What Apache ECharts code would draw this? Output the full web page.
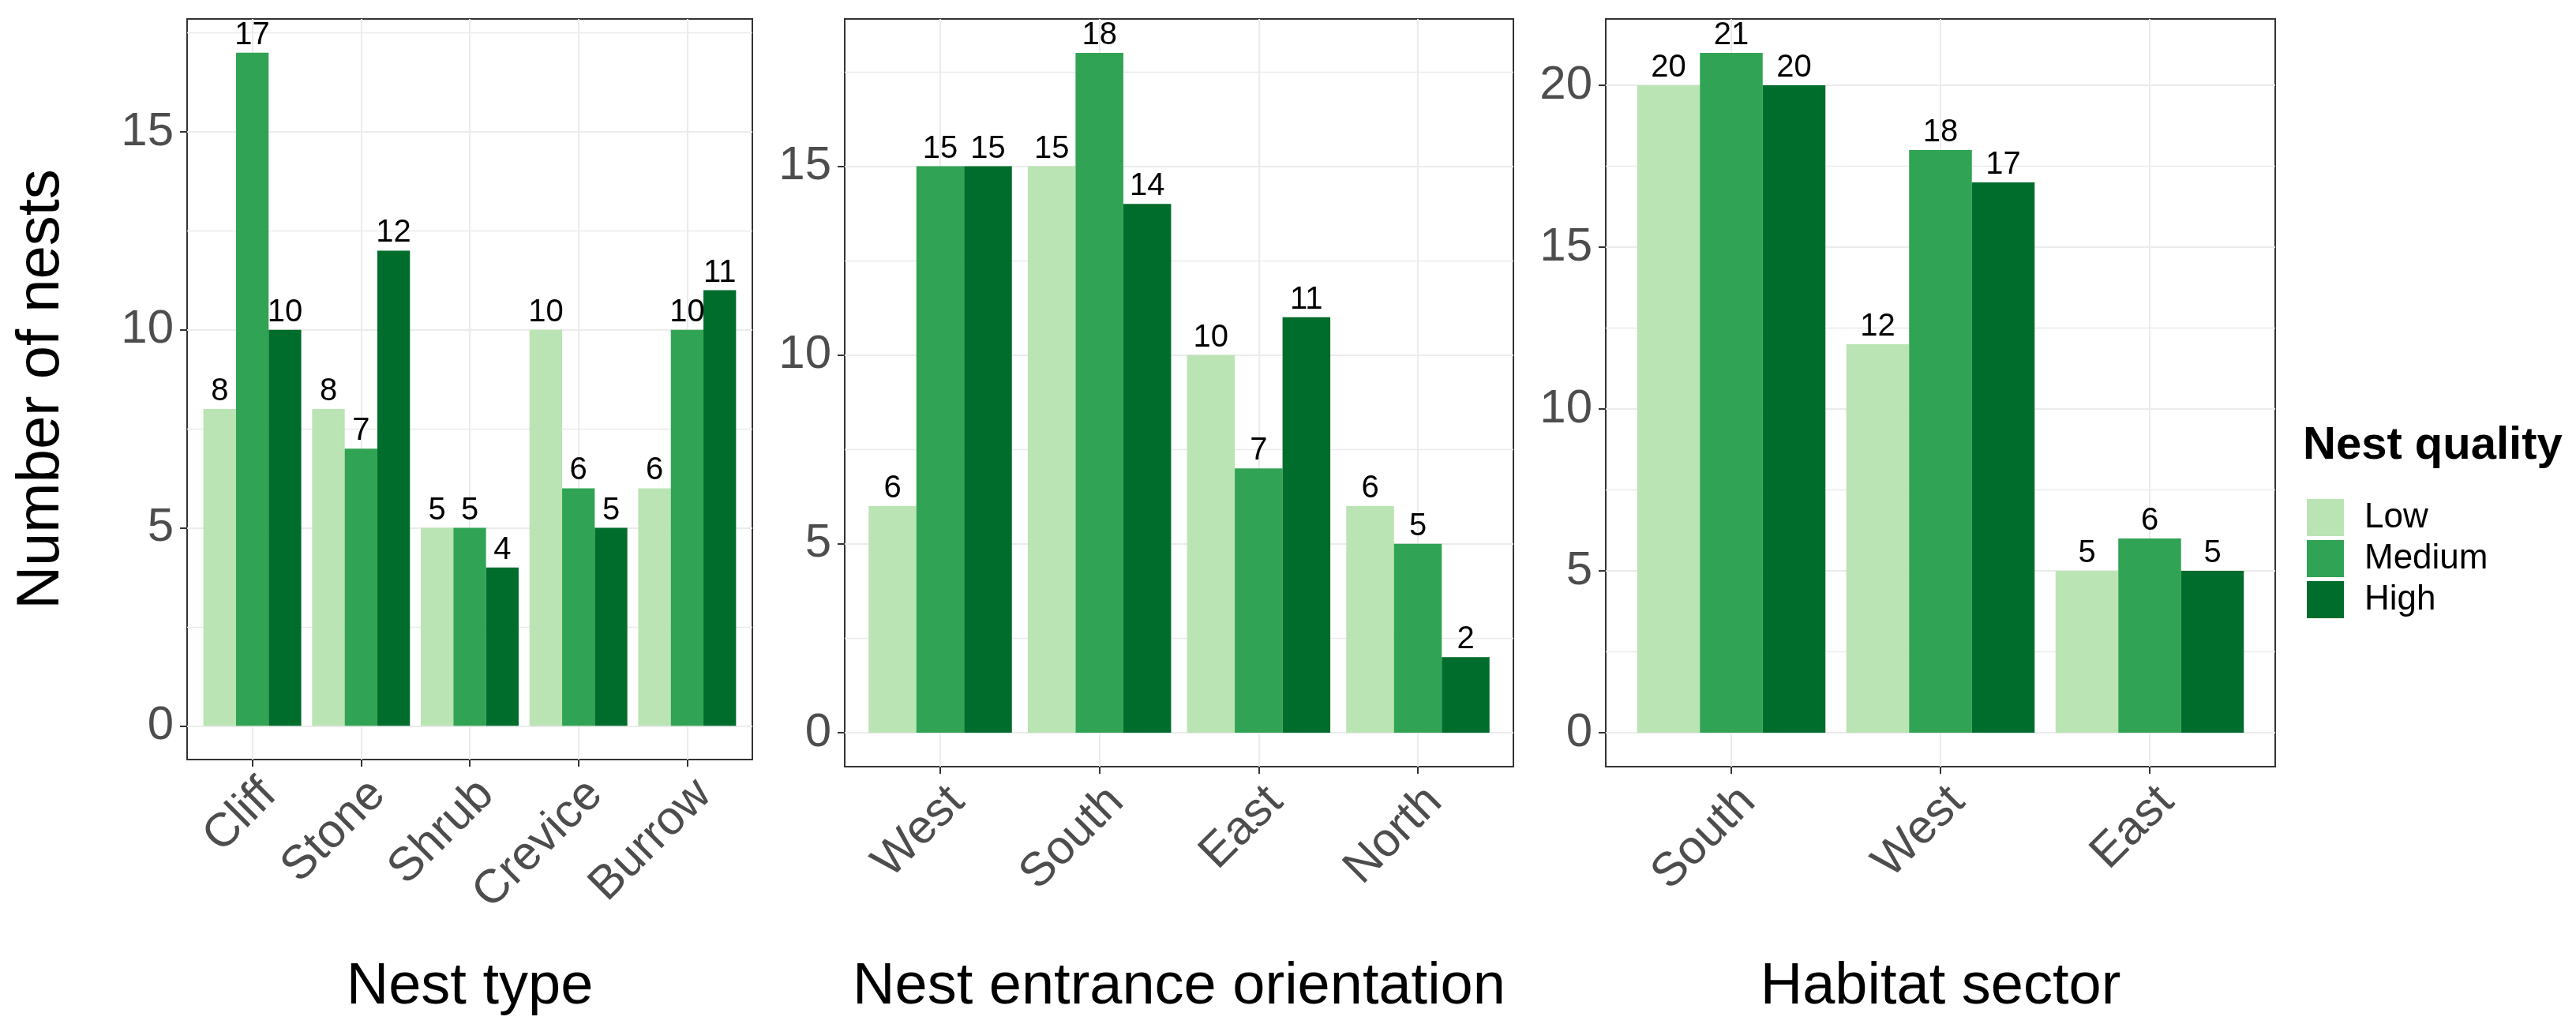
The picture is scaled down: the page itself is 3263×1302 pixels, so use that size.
<!DOCTYPE html>
<html>
<head>
<meta charset="utf-8">
<script src="https://cdn.jsdelivr.net/npm/echarts@6/dist/echarts.min.js"></script>
<style>
html,body{margin:0;padding:0;background:#fff;}
#chart{width:3263px;height:1302px;}
</style>
</head>
<body>
<div id="chart"></div>
<script>
// ---- data ----
var qualityLevels = ['Low', 'Medium', 'High'];
var qualityColors = ['#BAE4B3', '#31A354', '#006D2C'];

var nestTypes = ['Cliff', 'Stone', 'Shrub', 'Crevice', 'Burrow'];
var nestTypeLow = [8, 8, 5, 10, 6];
var nestTypeMedium = [17, 7, 5, 6, 10];
var nestTypeHigh = [10, 12, 4, 5, 11];

var orientations = ['West', 'South', 'East', 'North'];
var orientationLow = [6, 15, 10, 6];
var orientationMedium = [15, 18, 7, 5];
var orientationHigh = [15, 14, 11, 2];

var sectors = ['South', 'West', 'East'];
var sectorLow = [20, 12, 5];
var sectorMedium = [21, 18, 6];
var sectorHigh = [20, 17, 5];

var panel1Ticks = [0, 5, 10, 15];
var panel2Ticks = [0, 5, 10, 15];
var panel3Ticks = [0, 5, 10, 15, 20];
var minorTicks = [2.5, 7.5, 12.5, 17.5];

var xTitles = ['Nest type', 'Nest entrance orientation', 'Habitat sector'];
var yTitle = 'Number of nests';
var legendTitle = 'Nest quality';

// ---- layout ----
var FONT = '"Liberation Sans", Arial, Helvetica, sans-serif';
var panels = [
  {cats: nestTypes, vals: [nestTypeLow, nestTypeMedium, nestTypeHigh], ticks: panel1Ticks,
   left: 237, top: 24, width: 716, height: 938, nameGap: 252},
  {cats: orientations, vals: [orientationLow, orientationMedium, orientationHigh], ticks: panel2Ticks,
   left: 1070, top: 24, width: 847, height: 947, nameGap: 243},
  {cats: sectors, vals: [sectorLow, sectorMedium, sectorHigh], ticks: panel3Ticks,
   left: 2034, top: 24, width: 848, height: 947, nameGap: 243}
];

var grid = [], xAxis = [], yAxis = [], series = [];
panels.forEach(function (p, i) {
  var dataMax = 0;
  p.vals.forEach(function (arr) { arr.forEach(function (v) { if (v > dataMax) dataMax = v; }); });
  var pad = dataMax * 0.05;
  var yMin = -pad, yMax = dataMax + pad;
  var n = p.cats.length;
  var unit = p.width / (n + 0.2);
  var innerLeft = p.left + 0.1 * unit;
  var innerWidth = unit * n;

  // outer grid (panel box)
  var og = grid.length;
  grid.push({left: p.left, top: p.top, width: p.width, height: p.height, show: true,
    borderColor: '#333333', borderWidth: 2, backgroundColor: 'transparent', containLabel: false});
  // inner grid (bars)
  var ig = grid.length;
  grid.push({left: innerLeft, top: p.top, width: innerWidth, height: p.height, show: false, containLabel: false});

  xAxis.push({gridIndex: og, type: 'value', min: 0, max: 1, show: false});
  var ixi = xAxis.length;
  xAxis.push({
    gridIndex: ig, type: 'category', data: p.cats, position: 'bottom',
    name: xTitles[i], nameLocation: 'middle', nameGap: p.nameGap,
    nameTextStyle: {fontSize: 74, color: '#000', fontFamily: FONT},
    axisLine: {show: false, onZero: false},
    axisTick: {show: true, alignWithLabel: true, length: 9, lineStyle: {color: '#333333', width: 2}},
    axisLabel: {show: true, rotate: 45, interval: 0, margin: 14, align: 'right', verticalAlign: 'top',
      fontSize: 60, color: '#4D4D4D', fontFamily: FONT},
    splitLine: {show: true, alignWithLabel: true, lineStyle: {color: '#EBEBEB', width: 2}}
  });

  var yMajor = {
    gridIndex: og, type: 'value', min: yMin, max: yMax, position: 'left',
    axisLine: {show: false},
    axisTick: {show: true, length: 9, customValues: p.ticks, lineStyle: {color: '#333333', width: 2}},
    axisLabel: {show: true, customValues: p.ticks, margin: 17, fontSize: 60, color: '#4D4D4D', fontFamily: FONT},
    splitLine: {show: true, lineStyle: {color: '#EBEBEB', width: 2}}
  };
  if (i === 0) {
    yMajor.name = yTitle;
    yMajor.nameLocation = 'middle';
    yMajor.nameGap = 146;
    yMajor.nameTextStyle = {fontSize: 76, color: '#000', fontFamily: FONT};
  }
  yAxis.push(yMajor);
  yAxis.push({
    gridIndex: og, type: 'value', min: yMin, max: yMax, position: 'left',
    axisLine: {show: false},
    axisTick: {show: false, customValues: minorTicks.filter(function (v) { return v < yMax; })},
    axisLabel: {show: false},
    splitLine: {show: true, lineStyle: {color: '#EBEBEB', width: 1.3}}
  });
  var iyi = yAxis.length;
  yAxis.push({gridIndex: ig, type: 'value', min: yMin, max: yMax, show: false,
    splitLine: {show: false}, axisLine: {show: false}});

  qualityLevels.forEach(function (q, k) {
    series.push({
      type: 'bar', name: q, xAxisIndex: ixi, yAxisIndex: iyi,
      data: p.vals[k],
      barGap: '0%', barCategoryGap: '10%',
      itemStyle: {color: qualityColors[k]},
      label: {show: true, position: 'top', distance: 2, fontSize: 40, color: '#000', fontFamily: FONT},
      emphasis: {disabled: true},
      z: 3
    });
  });
});

var option = {
  backgroundColor: '#FFFFFF',
  animation: false,
  color: qualityColors,
  textStyle: {fontFamily: FONT},
  grid: grid,
  xAxis: xAxis,
  yAxis: yAxis,
  series: series,
  legend: {
    data: qualityLevels, orient: 'vertical', left: 2917, top: 627,
    icon: 'rect', itemWidth: 47, itemHeight: 47, itemGap: 5,
    textStyle: {fontSize: 44, color: '#000', fontFamily: FONT, padding: [0, 0, 0, 21]},
    selectedMode: false
  },
  graphic: [{
    type: 'text', left: 2917, top: 536,
    style: {text: legendTitle, fill: '#000', font: 'bold 58px ' + FONT}
  }]
};

var chart = echarts.init(document.getElementById('chart'), null, {renderer: 'canvas'});
chart.setOption(option);
</script>
</body>
</html>
